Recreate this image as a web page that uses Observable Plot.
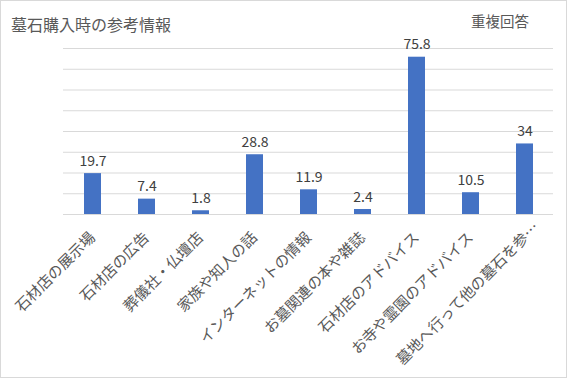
<!DOCTYPE html>
<html><head><meta charset="utf-8">
<script src="https://cdn.jsdelivr.net/npm/d3@7"></script>
<script src="https://cdn.jsdelivr.net/npm/@observablehq/plot@0.6"></script>
<style>
body{margin:0;background:#fff;font-family:"Noto Sans CJK JP","Noto Sans",sans-serif;}
#wrap{position:relative;width:567px;height:378px;}
#wrap svg{outline:1px solid #d9d9d9;outline-offset:-1px;display:block;}
.t{position:absolute;color:#595959;white-space:nowrap;line-height:1;}
</style></head>
<body>
<div id="wrap">
  <div class="t" id="title" style="left:11px;top:16px;font-size:16px;">墓石購入時の参考情報</div>
  <div class="t" id="note" style="left:471px;top:14px;font-size:14.5px;">重複回答</div>
</div>
<script>
const categories = ["石材店の展示場","石材店の広告","葬儀社・仏壇店","家族や知人の話","インターネットの情報","お墓関連の本や雑誌","石材店のアドバイス","お寺や霊園のアドバイス","墓地へ行って他の墓石を参…"];
const values = [19.7,7.4,1.8,28.8,11.9,2.4,75.8,10.5,34];
const valueLabels = ["19.7","7.4","1.8","28.8","11.9","2.4","75.8","10.5","34"];
const gridTicks = [0,10,20,30,40,50,60,70,80];

const data = categories.map((c,i)=>({cat:c, v:values[i], lab:valueLabels[i]}));
const lastCat = categories[categories.length-1];

const chart = Plot.plot({
  width:567, height:378,
  marginLeft:63, marginRight:14, marginTop:48, marginBottom:164,
  style:{fontFamily:'"Noto Sans CJK JP","Noto Sans",sans-serif', background:"#fff"},
  x:{domain:categories, paddingInner:0.69, paddingOuter:0.345, axis:null},
  y:{domain:[0,80], axis:null},
  marks:[
    Plot.ruleY(gridTicks,{stroke:"#d9d9d9", strokeWidth:1}),
    Plot.barY(data,{x:"cat", y:"v", fill:"#4472C4"}),
    Plot.text(data,{x:"cat", y:"v", text:"lab", lineAnchor:"bottom", dy:-8, fontSize:14, fill:"#404040"}),
    Plot.text(data.filter(d=>d.cat!==lastCat),{x:"cat", y:0, text:"cat", rotate:-45, textAnchor:"end", lineAnchor:"bottom", dx:3, dy:24, fontSize:15, fill:"#595959"}),
    Plot.text(data.filter(d=>d.cat===lastCat),{x:"cat", y:0, text:"cat", rotate:-45, textAnchor:"end", lineAnchor:"bottom", dx:15, dy:14, fontSize:15, fill:"#595959"})
  ]
});
document.getElementById("wrap").prepend(chart);
</script>
</body></html>
